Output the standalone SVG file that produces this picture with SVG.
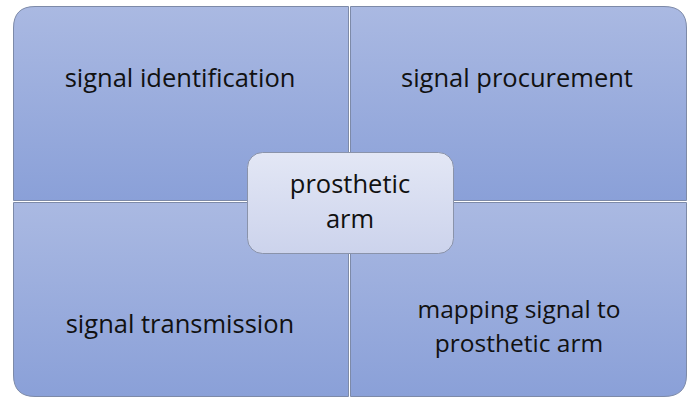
<svg xmlns="http://www.w3.org/2000/svg" width="692" height="398" viewBox="0 0 692 398">
<defs>
<linearGradient id="gq" x1="0" y1="0" x2="0" y2="1">
<stop offset="0" stop-color="#aab9e2"/>
<stop offset="1" stop-color="#8aa0d8"/>
</linearGradient>
<linearGradient id="gc" x1="0" y1="0" x2="0" y2="1">
<stop offset="0" stop-color="#e3e7f5"/>
<stop offset="1" stop-color="#ccd3ec"/>
</linearGradient>
</defs>
<style>
.q{fill:url(#gq);stroke:#7d8aa8;stroke-width:1}
.c{fill:url(#gc);stroke:#8a93aa;stroke-width:1}
.t{font-family:"Open Sans","Liberation Sans",sans-serif;font-size:25.5px;fill:#111;text-anchor:middle}
.s{font-size:24.5px}
</style>
<rect width="692" height="398" fill="#fff"/>
<g id="q1">
<path class="q" d="M13.5,200.5 V28 Q13.5,6.5 35,6.5 H348.5 V200.5 Z"/>
<text class="t" x="180" y="87">signal identification</text>
</g>
<g id="q2">
<path class="q" d="M350.5,6.5 H664 Q686.5,6.5 686.5,28 V200.5 H350.5 Z"/>
<text class="t" x="517" y="87">signal procurement</text>
</g>
<g id="q3">
<path class="q" d="M13.5,202.5 H348.5 V396.5 H35 Q13.5,396.5 13.5,375 Z"/>
<text class="t" x="180" y="333">signal transmission</text>
</g>
<g id="q4">
<path class="q" d="M350.5,202.5 H686.5 V375 Q686.5,396.5 664,396.5 H350.5 Z"/>
<text class="t s" x="519" y="318"><tspan x="519" y="318">mapping signal to</tspan><tspan x="519" y="352">prosthetic arm</tspan></text>
</g>
<g id="center">
<rect class="c" x="247.5" y="152.5" width="206" height="101" rx="15" ry="15"/>
<text class="t" x="350" y="193"><tspan x="350" y="193">prosthetic</tspan><tspan x="350" y="228">arm</tspan></text>
</g>
<g id="connectors"></g>
</svg>
